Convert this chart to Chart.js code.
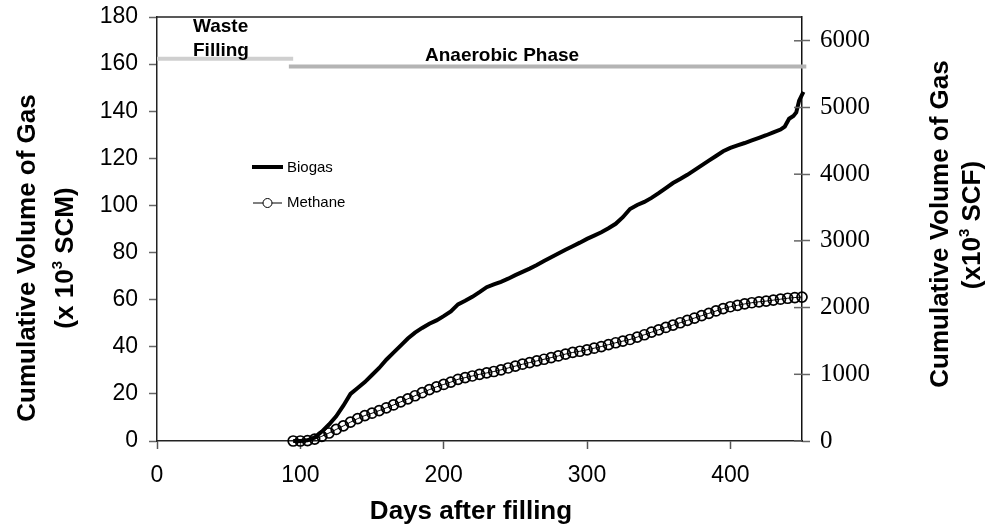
<!DOCTYPE html>
<html>
<head>
<meta charset="utf-8">
<style>
  html, body { margin: 0; padding: 0; background: #fff; }
  #wrap { width: 995px; height: 529px; }
</style>
</head>
<body>
<div id="wrap"><canvas id="chart" width="995" height="529"></canvas></div>
<script src="https://cdn.jsdelivr.net/npm/chart.js@4.4.1/dist/chart.umd.min.js"></script>
<script>
// données (jours après remplissage, volumes cumulés en 10^3 SCM)
const biogasDays = [95, 100, 105, 110, 115, 120, 125, 130, 135, 140, 145, 150, 155, 160, 165, 170, 175, 180, 185, 190,
  195, 200, 205, 210, 215, 220, 225, 230, 235, 240, 245, 250, 255, 260, 265, 270, 275, 280, 285, 290,
  295, 300, 305, 310, 315, 320, 325, 330, 335, 340, 345, 350, 355, 360, 365, 370, 375, 380, 385, 390,
  395, 400, 405, 410, 415, 420, 425, 430, 435, 438, 441, 444, 446, 448, 451];
const biogas = [0, 0, 0.3, 1.5, 4.0, 7.0, 10.5, 15.0, 20.0, 22.5, 25.0, 28.0, 31.0, 34.5, 37.5, 40.5, 43.5, 46.0, 48.0, 49.8,
  51.2, 53.0, 55.0, 58.0, 59.5, 61.2, 63.2, 65.3, 66.5, 67.6, 68.9, 70.4, 71.8, 73.2, 74.7, 76.4, 78.0, 79.6, 81.2, 82.7,
  84.2, 85.8, 87.2, 88.6, 90.3, 92.2, 95.0, 98.5, 100.2, 101.5, 103.2, 105.2, 107.4, 109.5, 111.2, 113.0, 115.0, 117.0, 119.0, 121.0,
  123.0, 124.4, 125.5, 126.5, 127.6, 128.7, 129.8, 131.0, 132.2, 133.5, 136.8, 138.0, 139.5, 144.5, 148.2];

const methaneDays = [95, 100, 105, 110, 115, 120, 125, 130, 135, 140, 145, 150, 155, 160, 165, 170, 175, 180, 185, 190,
  195, 200, 205, 210, 215, 220, 225, 230, 235, 240, 245, 250, 255, 260, 265, 270, 275, 280, 285, 290,
  295, 300, 305, 310, 315, 320, 325, 330, 335, 340, 345, 350, 355, 360, 365, 370, 375, 380, 385, 390,
  395, 400, 405, 410, 415, 420, 425, 430, 435, 440, 445, 450];
const methane = [0, 0, 0.2, 0.8, 2.0, 3.4, 4.9, 6.4, 8.0, 9.5, 10.8, 11.8, 12.9, 14.1, 15.3, 16.6, 17.9, 19.2, 20.5, 21.8,
  23.0, 24.0, 25.0, 26.2, 26.9, 27.6, 28.3, 28.9, 29.5, 30.2, 31.0, 31.8, 32.6, 33.3, 34.0, 34.7, 35.4, 36.1, 36.9, 37.6,
  38.1, 38.7, 39.4, 40.1, 40.9, 41.7, 42.4, 43.1, 44.1, 45.1, 46.2, 47.2, 48.2, 49.2, 50.2, 51.2, 52.2, 53.2, 54.2, 55.2,
  56.2, 57.0, 57.6, 58.2, 58.7, 59.1, 59.4, 59.8, 60.2, 60.6, 60.9, 61.1];

// barres de phases (début, fin en jours ; niveau sur l'axe SCM)
const phaseNames = ["Waste Filling", "Anaerobic Phase"];
const phaseStart = [0, 92];
const phaseEnd = [95, 453];
const phaseLevel = [162.3, 159.0];

// graduations de l'axe droit (10^3 SCF)
const scfTicks = [0, 1000, 2000, 3000, 4000, 5000, 6000];

const SCM_TO_SCF = 35.3147;
const SANS = '"Liberation Sans", Arial, sans-serif';
const SERIF = '"Liberation Serif", "Times New Roman", serif';

const pts = (xs, ys) => xs.map((x, i) => ({ x, y: ys[i] }));

// texte à plusieurs morceaux (exposant "3"), éventuellement pivoté de -90°
function drawTitle(ctx, cx, cy, parts, rotate) {
  ctx.save();
  ctx.translate(cx, cy);
  if (rotate) ctx.rotate(-Math.PI / 2);
  ctx.textBaseline = "alphabetic";
  ctx.textAlign = "left";
  let w = 0;
  parts.forEach((p) => { ctx.font = p.font; p.w = ctx.measureText(p.t).width; w += p.w; });
  let x = -w / 2;
  parts.forEach((p) => { ctx.font = p.font; ctx.fillText(p.t, x, 9 + (p.dy || 0)); x += p.w; });
  ctx.restore();
}

// pas de marge automatique pour les étiquettes extrêmes : la zone de tracé reste calée
const noPad = (s) => { s.paddingTop = 0; s.paddingBottom = 0; s.paddingLeft = 0; s.paddingRight = 0; };

const decor = {
  id: "decor",
  afterDraw(chart) {
    const { ctx, chartArea: a, scales } = chart;
    ctx.save();
    // cadre du haut
    ctx.strokeStyle = "#222"; ctx.lineWidth = 1.5;
    ctx.beginPath(); ctx.moveTo(a.left, a.top); ctx.lineTo(a.right, a.top); ctx.stroke();
    // graduations de l'axe droit côté intérieur
    ctx.strokeStyle = "#666"; ctx.lineWidth = 1.5;
    scales.y2.ticks.forEach((t) => {
      const y = scales.y2.getPixelForValue(t.value);
      ctx.beginPath(); ctx.moveTo(a.right - 8, y); ctx.lineTo(a.right, y); ctx.stroke();
    });

    // légende
    ctx.fillStyle = "#000"; ctx.strokeStyle = "#000";
    ctx.lineWidth = 4;
    ctx.beginPath(); ctx.moveTo(252, 167); ctx.lineTo(283, 167); ctx.stroke();
    ctx.lineWidth = 1;
    ctx.beginPath(); ctx.moveTo(253, 203); ctx.lineTo(282, 203); ctx.stroke();
    ctx.fillStyle = "#fff";
    ctx.beginPath(); ctx.arc(267.5, 203, 4.5, 0, Math.PI * 2); ctx.fill(); ctx.stroke();
    ctx.fillStyle = "#000";
    ctx.font = "15px " + SANS; ctx.textBaseline = "middle"; ctx.textAlign = "left";
    ctx.fillText("Biogas", 287, 168);
    ctx.fillText("Methane", 287, 203);

    // noms des phases
    ctx.font = "bold 19px " + SANS; ctx.textBaseline = "alphabetic";
    ctx.fillText("Waste", 193, 32);
    ctx.fillText("Filling", 193, 56);
    ctx.fillText("Anaerobic Phase", 425, 61);

    // titres d'axes
    const B = "bold 26px " + SANS, S = "bold 15px " + SANS;
    drawTitle(ctx, 26, 258, [{ t: "Cumulative Volume of Gas", font: B }], true);
    drawTitle(ctx, 64, 258, [{ t: "(x 10", font: B }, { t: "3", font: S, dy: -11 }, { t: " SCM)", font: B }], true);
    drawTitle(ctx, 939, 224, [{ t: "Cumulative Volume of Gas", font: B }], true);
    drawTitle(ctx, 971, 225, [{ t: "(x10", font: B }, { t: "3", font: S, dy: -11 }, { t: " SCF)", font: B }], true);
    drawTitle(ctx, 471, 510, [{ t: "Days after filling", font: "bold 26px " + SANS }], false);
    ctx.restore();
  },
};

new Chart(document.getElementById("chart"), {
  type: "line",
  data: {
    datasets: [
      { label: "Biogas", data: pts(biogasDays, biogas), borderColor: "#000", borderWidth: 4, pointRadius: 0, tension: 0, clip: 8, yAxisID: "y" },
      { label: "Methane", data: pts(methaneDays, methane), borderColor: "#000", borderWidth: 1, pointRadius: 5, pointBorderWidth: 1.7,
        pointBackgroundColor: "rgba(255,255,255,0)", pointBorderColor: "#000", tension: 0, clip: 8, yAxisID: "y" },
      { label: phaseNames[0], data: [{ x: phaseStart[0], y: phaseLevel[0] }, { x: phaseEnd[0], y: phaseLevel[0] }],
        borderColor: "#cfcfcf", borderWidth: 4, pointRadius: 0, clip: false, yAxisID: "y" },
      { label: phaseNames[1], data: [{ x: phaseStart[1], y: phaseLevel[1] }, { x: phaseEnd[1], y: phaseLevel[1] }],
        borderColor: "#b4b4b4", borderWidth: 4, pointRadius: 0, clip: false, yAxisID: "y" },
    ],
  },
  options: {
    responsive: false, animation: false, devicePixelRatio: 1,
    layout: { padding: { top: 17, left: 0, right: 0, bottom: 0 } },
    plugins: { legend: { display: false }, tooltip: { enabled: false } },
    scales: {
      x: {
        type: "linear", min: 0, max: 450, position: "bottom",
        ticks: { stepSize: 100, includeBounds: false, color: "#000", font: { family: SANS, size: 23 }, padding: 13, maxRotation: 0 },
        grid: { drawOnChartArea: false, tickLength: 8, tickColor: "#555", tickWidth: 1.5 },
        border: { color: "#222", width: 1.5 },
        afterFit: (s) => { s.height = 88; noPad(s); },
      },
      y: {
        position: "left", min: 0, max: 180,
        ticks: { stepSize: 20, color: "#000", font: { family: SANS, size: 23 }, padding: 11 },
        grid: { drawOnChartArea: false, tickLength: 8, tickColor: "#666", tickWidth: 1.5 },
        border: { color: "#222", width: 1.5 },
        afterFit: (s) => { s.width = 157; noPad(s); },
      },
      y2: {
        position: "right", min: 0, max: 180 * SCM_TO_SCF,
        afterBuildTicks: (s) => { s.ticks = scfTicks.map((v) => ({ value: v })); },
        ticks: { color: "#000", font: { family: SERIF, size: 25 }, padding: 10, callback: (v) => String(v) },
        grid: { drawOnChartArea: false, tickLength: 8, tickColor: "#666", tickWidth: 1.5 },
        border: { color: "#111", width: 1.5 },
        afterFit: (s) => { s.width = 193; noPad(s); },
      },
    },
  },
  plugins: [decor],
});
</script>
</body>
</html>
